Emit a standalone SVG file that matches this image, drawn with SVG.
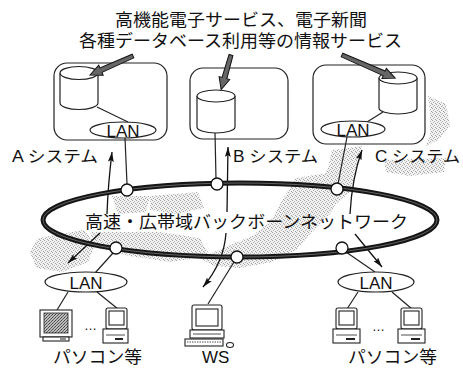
<svg xmlns="http://www.w3.org/2000/svg" width="463" height="374" viewBox="0 0 463 374">
  <defs>
    <pattern id="stipple" width="4" height="4" patternUnits="userSpaceOnUse">
      <rect width="4" height="4" fill="#f1f1f1"/>
      <rect x="0" y="0" width="1" height="1" fill="#a5a5a5"/>
      <rect x="2" y="1" width="1" height="1" fill="#b8b8b8"/>
      <rect x="1" y="2" width="1" height="1" fill="#b0b0b0"/>
      <rect x="3" y="3" width="1" height="1" fill="#a0a0a0"/>
    </pattern>
    <pattern id="screen" width="3" height="3" patternUnits="userSpaceOnUse">
      <rect width="3" height="3" fill="#bbb"/>
      <rect x="0" y="0" width="1" height="1" fill="#555"/>
      <rect x="2" y="1" width="1" height="1" fill="#666"/>
      <rect x="1" y="2" width="1" height="1" fill="#444"/>
    </pattern>
    <marker id="head" viewBox="0 0 10 6" refX="10" refY="3" markerWidth="10" markerHeight="6" markerUnits="userSpaceOnUse" orient="auto">
      <path d="M0,0 L10,3 L0,6 L2,3 Z" fill="#111"/>
    </marker>
  </defs>
  <style>
    text { font-family: "Liberation Sans", "Noto Sans CJK JP", sans-serif; fill: #111; }
    .title { font-size: 17.5px; }
    .label { font-size: 16px; }
    .lan { font-size: 17px; text-anchor: middle; }
    .box { fill: #fff; stroke: #222; stroke-width: 1.2; }
    .cyl { fill: #fff; stroke: #222; stroke-width: 1.2; }
    .ell { fill: #fff; stroke: #222; stroke-width: 1.2; }
    .wire { fill: none; stroke: #222; stroke-width: 1.2; }
    .flow { fill: none; stroke: #111; stroke-width: 1.3; }
    .fat { fill: #666; stroke: #111; stroke-width: 1; }
    .node { fill: #fff; stroke: #111; stroke-width: 1.3; }
    .pc { fill: #fff; stroke: #222; stroke-width: 1.1; }
  </style>

  <rect width="463" height="374" fill="#fff"/>

  <!-- stippled map of the islands behind the network -->
  <g id="map" fill="url(#stipple)">
    <path d="M428,96 L446,104 L450,126 L438,140 L426,146 L430,136 L430,112 Z"/>
    <path d="M384,160 L446,158 L444,172 L410,176 L386,172 Z"/>
    <path d="M332,150 L362,146 L356,170 L350,192 L336,204 L312,198 L318,184 L328,168 Z"/>
    <path d="M296,178 L334,172 L340,196 L330,214 L312,232 L296,250 L272,262 L240,268 L214,266 L200,258 L228,246 L252,236 L270,222 L280,204 Z"/>
    <path d="M150,196 L198,192 L204,208 L176,214 L150,210 Z"/>
    <path d="M112,196 L150,196 L146,212 L118,214 Z"/>
    <path d="M90,232 L160,232 L200,238 L210,256 L170,262 L130,256 L96,248 Z"/>
    <path d="M38,238 L84,230 L96,244 L88,262 L62,272 L36,268 L30,252 Z"/>
  </g>

  <!-- heading -->
  <text class="title" x="115" y="26" textLength="252" lengthAdjust="spacingAndGlyphs">高機能電子サービス、電子新聞</text>
  <text class="title" x="79" y="47" textLength="323" lengthAdjust="spacingAndGlyphs">各種データベース利用等の情報サービス</text>

  <!-- system A -->
  <g id="systemA">
    <rect class="box" x="54" y="63" width="113" height="77" rx="13"/>
    <path class="cyl" d="M60,73 V103 A19,6.5 0 0 0 98,103 V73"/>
    <ellipse class="cyl" cx="79" cy="73" rx="19" ry="6.5"/>
    <line class="wire" x1="97" y1="107" x2="128" y2="122"/>
    <ellipse class="ell" cx="123" cy="130" rx="33" ry="8"/>
    <text class="lan" x="123" y="137">LAN</text>
    <polygon class="fat" points="0,-2 35,-2.5 35,-5.5 47,0 35,5.5 35,2.5 0,2" transform="translate(133,56) rotate(156.2)"/>
    <text class="label" x="12" y="162" textLength="86" lengthAdjust="spacingAndGlyphs">A システム</text>
  </g>

  <!-- system B -->
  <g id="systemB">
    <rect class="box" x="190" y="68" width="98" height="71" rx="13"/>
    <path class="cyl" d="M197,96 V127 A19,6 0 0 0 235,127 V96"/>
    <ellipse class="cyl" cx="216" cy="96" rx="19" ry="6"/>
    <polygon class="fat" points="0,-2 24,-2.5 24,-5.5 36,0 24,5.5 24,2.5 0,2" transform="translate(231,55) rotate(105.9)"/>
    <text class="label" x="233" y="162" textLength="85" lengthAdjust="spacingAndGlyphs">B システム</text>
  </g>

  <!-- system C -->
  <g id="systemC">
    <rect class="box" x="313" y="65" width="112" height="79" rx="13"/>
    <path class="cyl" d="M379,78 V108 A19,6 0 0 0 417,108 V78"/>
    <ellipse class="cyl" cx="398" cy="78" rx="19" ry="6"/>
    <line class="wire" x1="383" y1="112" x2="367" y2="122"/>
    <ellipse class="ell" cx="353" cy="129" rx="32" ry="8"/>
    <text class="lan" x="353" y="136">LAN</text>
    <polygon class="fat" points="0,-2 46,-2.5 46,-5.5 58,0 46,5.5 46,2.5 0,2" transform="translate(342,55) rotate(23.5)"/>
    <text class="label" x="375" y="162" textLength="85" lengthAdjust="spacingAndGlyphs">C システム</text>
  </g>

  <!-- connectors: links to the backbone and data flows -->
  <g id="connectors">
    <line class="wire" x1="125" y1="138" x2="127" y2="184"/>
    <line class="wire" x1="215" y1="133" x2="216" y2="179"/>
    <line class="wire" x1="347" y1="137" x2="338" y2="184"/>
    <line class="wire" x1="113" y1="253" x2="95" y2="273"/>
    <line class="wire" x1="234" y1="262" x2="208" y2="304"/>
    <line class="wire" x1="346" y1="252" x2="375" y2="272"/>
    <!-- flows, broken where the backbone label sits -->
    <path class="flow" d="M107,214 Q108,185 112,152" marker-end="url(#head)"/>
    <path class="flow" d="M100,233 L68,263" marker-end="url(#head)"/>
    <path class="flow" d="M227,212 L228,147" marker-end="url(#head)"/>
    <path class="flow" d="M226,233 Q224,262 203,287" marker-end="url(#head)"/>
    <path class="flow" d="M350,214 Q352,178 362,150" marker-end="url(#head)"/>
    <path class="flow" d="M355,234 L382,267" marker-end="url(#head)"/>
    <!-- LAN to terminals -->
    <line class="wire" x1="68" y1="292" x2="57" y2="310"/>
    <line class="wire" x1="97" y1="292" x2="118" y2="309"/>
    <line class="wire" x1="358" y1="292" x2="347" y2="309"/>
    <line class="wire" x1="392" y1="292" x2="412" y2="309"/>
  </g>

  <!-- backbone ring -->
  <g id="backbone">
    <ellipse cx="240" cy="220" rx="197" ry="37" fill="none" stroke="#151515" stroke-width="5"/>
    <ellipse cx="240" cy="220" rx="197" ry="37" fill="none" stroke="#777" stroke-width="0.8"/>
    <circle class="node" cx="127" cy="190" r="6"/>
    <circle class="node" cx="217" cy="184" r="6"/>
    <circle class="node" cx="337" cy="189" r="6"/>
    <circle class="node" cx="116" cy="248" r="6"/>
    <circle class="node" cx="237" cy="257" r="6"/>
    <circle class="node" cx="342" cy="248" r="6"/>
    <text class="title" x="85" y="228" textLength="323" lengthAdjust="spacingAndGlyphs">高速・広帯域バックボーンネットワーク</text>
  </g>

  <!-- left LAN with PCs -->
  <g id="lanLeft">
    <ellipse class="ell" cx="86" cy="282" rx="41" ry="10"/>
    <text class="lan" x="86" y="288.5">LAN</text>
    <!-- CRT monitor -->
    <rect class="pc" x="40" y="310" width="32" height="27"/>
    <rect x="44" y="313" width="24" height="20" fill="url(#screen)" stroke="#222" stroke-width="0.8"/>
    <rect class="pc" x="43" y="337" width="26" height="4"/>
    <line x1="60" y1="339" x2="66" y2="339" stroke="#222" stroke-width="1"/>
    <text x="84" y="330" style="font-size:13px">…</text>
    <!-- desktop PC -->
    <rect class="pc" x="106" y="308" width="21" height="21" rx="2"/>
    <rect class="pc" x="109" y="311" width="15" height="14"/>
    <rect class="pc" x="103" y="329" width="25" height="14"/>
    <line x1="106" y1="335" x2="125" y2="335" stroke="#222" stroke-width="0.8"/>
    <rect x="115" y="338" width="8" height="2" fill="#222"/>
    <text x="53" y="363" style="font-size:17px" textLength="89" lengthAdjust="spacingAndGlyphs">パソコン等</text>
  </g>

  <!-- workstation -->
  <g id="ws">
    <rect class="pc" x="192" y="305" width="30" height="25" rx="2"/>
    <rect class="pc" x="196" y="309" width="22" height="17"/>
    <rect class="pc" x="190" y="330" width="34" height="8"/>
    <line x1="193" y1="334" x2="221" y2="334" stroke="#222" stroke-width="0.8"/>
    <rect class="pc" x="185" y="339" width="38" height="7"/>
    <line x1="187" y1="342" x2="221" y2="342" stroke="#555" stroke-width="1" stroke-dasharray="1.5,1"/>
    <ellipse class="pc" cx="230" cy="345" rx="3.5" ry="2.5"/>
    <text x="202" y="363" style="font-size:17px">WS</text>
  </g>

  <!-- right LAN with PCs -->
  <g id="lanRight">
    <ellipse class="ell" cx="376" cy="282" rx="38" ry="10"/>
    <text class="lan" x="376" y="288.5">LAN</text>
    <rect class="pc" x="336" y="308" width="21" height="21" rx="2"/>
    <rect class="pc" x="339" y="311" width="15" height="14"/>
    <rect class="pc" x="333" y="329" width="27" height="14"/>
    <line x1="336" y1="335" x2="357" y2="335" stroke="#222" stroke-width="0.8"/>
    <rect x="346" y="338" width="9" height="2" fill="#222"/>
    <text x="372" y="331" style="font-size:13px">…</text>
    <rect class="pc" x="401" y="308" width="21" height="21" rx="2"/>
    <rect class="pc" x="404" y="311" width="15" height="14"/>
    <rect class="pc" x="398" y="329" width="27" height="14"/>
    <line x1="401" y1="335" x2="422" y2="335" stroke="#222" stroke-width="0.8"/>
    <rect x="411" y="338" width="9" height="2" fill="#222"/>
    <text x="348" y="363" style="font-size:17px" textLength="89" lengthAdjust="spacingAndGlyphs">パソコン等</text>
  </g>
</svg>
